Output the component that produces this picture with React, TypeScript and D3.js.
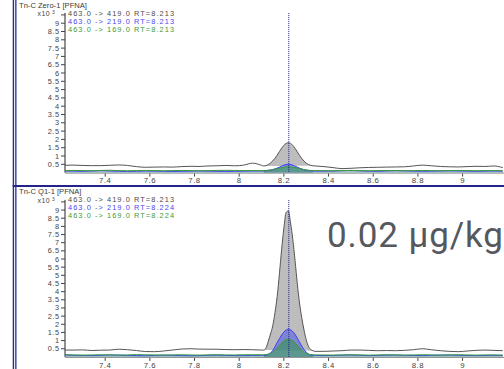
import React from 'react';
import * as d3 from 'd3';

// retention time grid (min), coarse on the baseline, fine across the peak
const rt = [
  7.22, 7.26, 7.3, 7.34, 7.38, 7.42, 7.46, 7.5, 7.54, 7.58, 7.62, 7.66, 7.7, 7.74, 7.78, 7.82, 7.86, 7.9, 7.94, 7.98, 8.02, 8.06, 8.1,
  8.11, 8.12, 8.13, 8.14, 8.15, 8.16, 8.17, 8.18, 8.19, 8.2, 8.21, 8.22, 8.23, 8.24, 8.25, 8.26, 8.27, 8.28, 8.29, 8.3, 8.31, 8.32, 8.33, 8.34,
  8.38, 8.42, 8.46, 8.5, 8.54, 8.58, 8.62, 8.66, 8.7, 8.74, 8.78, 8.82, 8.86, 8.9, 8.94, 8.98, 9.02, 9.06, 9.1, 9.14, 9.18,
];

// Tn-C Zero-1, counts x10^3
const zero419 = [
  0.44, 0.45, 0.43, 0.42, 0.42, 0.44, 0.46, 0.43, 0.36, 0.32, 0.33, 0.34, 0.33, 0.36, 0.38, 0.37, 0.4, 0.41, 0.43, 0.41, 0.45, 0.57, 0.44,
  0.4, 0.42, 0.48, 0.58, 0.7, 0.86, 1.05, 1.27, 1.47, 1.64, 1.76, 1.8, 1.76, 1.64, 1.46, 1.25, 1.04, 0.85, 0.69, 0.57, 0.49, 0.44, 0.41, 0.4,
  0.36, 0.3, 0.24, 0.26, 0.29, 0.31, 0.32, 0.33, 0.34, 0.35, 0.4, 0.45, 0.41, 0.37, 0.35, 0.34, 0.36, 0.38, 0.37, 0.4, 0.3,
];
const zero219 = [
  0.1, 0.09, 0.08, 0.1, 0.12, 0.1, 0.08, 0.07, 0.08, 0.1, 0.09, 0.08, 0.07, 0.08, 0.09, 0.1, 0.09, 0.08, 0.07, 0.08, 0.09, 0.1, 0.1,
  0.1, 0.11, 0.13, 0.15, 0.18, 0.22, 0.27, 0.33, 0.39, 0.45, 0.49, 0.51, 0.49, 0.45, 0.39, 0.33, 0.27, 0.22, 0.18, 0.15, 0.13, 0.11, 0.1, 0.09,
  0.09, 0.1, 0.12, 0.13, 0.11, 0.09, 0.08, 0.1, 0.12, 0.11, 0.09, 0.08, 0.09, 0.1, 0.11, 0.1, 0.09, 0.08, 0.09, 0.1, 0.09,
];
const zero169 = [
  0.12, 0.13, 0.12, 0.11, 0.13, 0.14, 0.12, 0.11, 0.12, 0.13, 0.12, 0.11, 0.12, 0.13, 0.12, 0.11, 0.12, 0.13, 0.14, 0.13, 0.12, 0.12, 0.12,
  0.12, 0.13, 0.14, 0.16, 0.18, 0.21, 0.24, 0.27, 0.3, 0.33, 0.35, 0.36, 0.35, 0.33, 0.3, 0.27, 0.24, 0.21, 0.18, 0.16, 0.14, 0.13, 0.12, 0.12,
  0.12, 0.11, 0.12, 0.13, 0.12, 0.11, 0.12, 0.13, 0.12, 0.11, 0.12, 0.13, 0.12, 0.11, 0.12, 0.13, 0.12, 0.11, 0.12, 0.12, 0.11,
];

// Tn-C Q1-1, counts x10^3
const q1419 = [
  0.42, 0.42, 0.43, 0.39, 0.41, 0.42, 0.47, 0.44, 0.39, 0.33, 0.32, 0.36, 0.42, 0.48, 0.5, 0.48, 0.47, 0.47, 0.45, 0.44, 0.45, 0.44, 0.42,
  0.42, 0.55, 0.95, 1.4, 1.9, 2.7, 3.7, 5.1, 6.6, 7.9, 8.85, 8.95, 8.2, 7.2, 5.9, 4.5, 3.3, 2.4, 1.65, 1.05, 0.65, 0.45, 0.38, 0.34,
  0.34, 0.36, 0.38, 0.42, 0.42, 0.4, 0.38, 0.39, 0.38, 0.4, 0.44, 0.5, 0.44, 0.38, 0.34, 0.32, 0.36, 0.4, 0.42, 0.4, 0.38,
];
const q1219 = [
  0.12, 0.1, 0.09, 0.08, 0.1, 0.12, 0.11, 0.09, 0.08, 0.07, 0.09, 0.11, 0.1, 0.08, 0.07, 0.08, 0.1, 0.11, 0.09, 0.08, 0.08, 0.09, 0.1,
  0.1, 0.11, 0.15, 0.24, 0.4, 0.62, 0.88, 1.12, 1.34, 1.52, 1.64, 1.7, 1.66, 1.55, 1.38, 1.15, 0.9, 0.66, 0.45, 0.29, 0.18, 0.12, 0.1, 0.09,
  0.08, 0.09, 0.11, 0.12, 0.1, 0.08, 0.09, 0.11, 0.12, 0.1, 0.09, 0.08, 0.1, 0.11, 0.12, 0.1, 0.09, 0.08, 0.09, 0.1, 0.09,
];
const q1169 = [
  0.13, 0.12, 0.11, 0.12, 0.13, 0.12, 0.11, 0.12, 0.14, 0.13, 0.12, 0.11, 0.12, 0.13, 0.12, 0.11, 0.12, 0.13, 0.12, 0.12, 0.13, 0.13, 0.13,
  0.13, 0.14, 0.17, 0.22, 0.3, 0.41, 0.55, 0.7, 0.85, 0.97, 1.05, 1.08, 1.05, 0.97, 0.85, 0.7, 0.55, 0.41, 0.3, 0.22, 0.17, 0.14, 0.13, 0.12,
  0.12, 0.11, 0.12, 0.13, 0.12, 0.11, 0.12, 0.13, 0.12, 0.11, 0.12, 0.13, 0.12, 0.11, 0.12, 0.13, 0.12, 0.11, 0.12, 0.12, 0.11,
];

const zeroLegend = ['463.0 -> 419.0 RT=8.213', '463.0 -> 219.0 RT=8.213', '463.0 -> 169.0 RT=8.213'];
const q1Legend = ['463.0 -> 419.0 RT=8.213', '463.0 -> 219.0 RT=8.224', '463.0 -> 169.0 RT=8.224'];

const xTicks = [7.4, 7.6, 7.8, 8, 8.2, 8.4, 8.6, 8.8, 9];
const yTicks = [0.5, 1, 1.5, 2, 2.5, 3, 3.5, 4, 4.5, 5, 5.5, 6, 6.5, 7, 7.5, 8, 8.5, 9];
const yMax = 9.5;
const peakStart = 8.11;
const peakEnd = 8.33;
const markerRt = 8.222;

const FONT = 'Liberation Sans, Arial, sans-serif';
const legendColors = ['#4a4a4a', '#4848f0', '#3c9a3c'];

const x = d3.scaleLinear().domain([7.22, 9.19]).range([65, 505]);

type Pt = [number, number];

const Panel = ({ id, title, legend, gray, blue, green, top, bottom, titleY }: any) => {
  const y = d3.scaleLinear().domain([0, yMax]).range([bottom, top]);
  const pts = (vals: number[]): Pt[] => rt.map((t, i) => [t, vals[i]] as Pt);
  const inPeak = (p: Pt[]) => p.filter(d => d[0] >= peakStart - 1e-9 && d[0] <= peakEnd + 1e-9);

  const line = d3.line<Pt>().x(d => x(d[0])).y(d => y(d[1])).curve(d3.curveMonotoneX);
  const fullArea = d3.area<Pt>().x(d => x(d[0])).y0(y(0)).y1(d => y(d[1])).curve(d3.curveMonotoneX);

  const g = inPeak(pts(gray));
  const g0 = g[0];
  const g1 = g[g.length - 1];
  const grayArea = d3
    .area<Pt>()
    .x(d => x(d[0]))
    .y0(d => y(g0[1] + ((g1[1] - g0[1]) * (d[0] - g0[0])) / (g1[0] - g0[0])))
    .y1(d => y(d[1]))
    .curve(d3.curveMonotoneX);

  const axisTop = y(yMax) - 2;

  return (
    <g fontFamily={FONT}>
      <defs>
        <clipPath id={id}>
          <rect x={65} y={axisTop} width={440} height={y(0) - axisTop + 0.5} />
        </clipPath>
      </defs>

      <text x={19} y={titleY} fontSize={7.6} fill="#3a3a3a" dominantBaseline="central">{title}</text>

      {/* y axis */}
      <line x1={65} x2={65} y1={axisTop} y2={y(0)} stroke="#222" strokeWidth={1} />
      {yTicks.map(v => (
        <g key={v}>
          <line x1={61} x2={65} y1={y(v)} y2={y(v)} stroke="#444" />
          <text x={59.5} y={y(v)} fontSize={7.4} letterSpacing={0.5} fill="#444" textAnchor="end" dominantBaseline="central">{String(v)}</text>
        </g>
      ))}
      <line x1={61} x2={65} y1={y(yMax)} y2={y(yMax)} stroke="#444" />
      <text x={50} y={y(yMax) - 1.5} fontSize={7} letterSpacing={0.4} fill="#444" textAnchor="end" dominantBaseline="central">x10</text>
      <text x={52} y={y(yMax) - 3} fontSize={5} fill="#444" dominantBaseline="central">3</text>

      {/* x axis */}
      <line x1={65} x2={504} y1={y(0) + 0.5} y2={y(0) + 0.5} stroke="#8a8a8a" />
      {xTicks.map(v => (
        <g key={v}>
          <line x1={x(v)} x2={x(v)} y1={y(0) + 1} y2={y(0) + 4} stroke="#444" />
          <text x={x(v)} y={y(0) + 8.3} fontSize={7.8} letterSpacing={0.5} fill="#444" textAnchor="middle" dominantBaseline="central">{String(v)}</text>
        </g>
      ))}

      <g clipPath={`url(#${id})`}>
        <path d={grayArea(g) || ''} fill="#bdbdbd" />
        <path d={line(pts(gray)) || ''} fill="none" stroke="#555" strokeWidth={1} />
        <path d={fullArea(pts(blue)) || ''} fill="#6b78e8" fillOpacity={0.35} />
        <path d={fullArea(inPeak(pts(blue))) || ''} fill="#4a55d8" fillOpacity={0.4} />
        <path d={fullArea(pts(green)) || ''} fill="#58b070" fillOpacity={0.35} />
        <path d={fullArea(inPeak(pts(green))) || ''} fill="#2f8a55" fillOpacity={0.45} />
        <path d={line(pts(blue)) || ''} fill="none" stroke="#3c3cff" strokeWidth={1} />
        <path d={line(pts(green)) || ''} fill="none" stroke="#3a9a3a" strokeWidth={1} />
        <line x1={x(markerRt)} x2={x(markerRt)} y1={axisTop} y2={y(0)} stroke="#1e1e8c" strokeWidth={1} strokeDasharray="1 1" />
      </g>

      {legend.map((s: string, i: number) => (
        <text key={s + i} x={68} y={titleY + 8 * (i + 1)} fontSize={7.4} textLength={106} lengthAdjust="spacing" fill={legendColors[i]} dominantBaseline="central">{s}</text>
      ))}
    </g>
  );
};

export default function App() {
  return (
    <svg width={504} height={369} style={{ position: 'absolute', left: 0, top: 0, background: '#fff' }}>
      <rect width={504} height={369} fill="#fff" />
      <Panel id="clip-zero" title="Tn-C Zero-1 [PFNA]" legend={zeroLegend} gray={zero419} blue={zero219} green={zero169} top={14.9} bottom={172.6} titleY={5.7} />
      <Panel id="clip-q1" title="Tn-C Q1-1 [PFNA]" legend={q1Legend} gray={q1419} blue={q1219} green={q1169} top={201.9} bottom={356.9} titleY={191} />

      {/* frame */}
      <rect x={12.7} y={0} width={1.4} height={369} fill="#2a2a9a" />
      <rect x={15.2} y={0} width={1.3} height={369} fill="#2a2a9a" />
      <rect x={12.7} y={185} width={492} height={2} fill="#23238c" />

      <text x={327} y={246.5} fontFamily="Roboto, sans-serif" fontSize={35} letterSpacing={0.9} fill="#55595e">0.02 µg/kg</text>
    </svg>
  );
}
